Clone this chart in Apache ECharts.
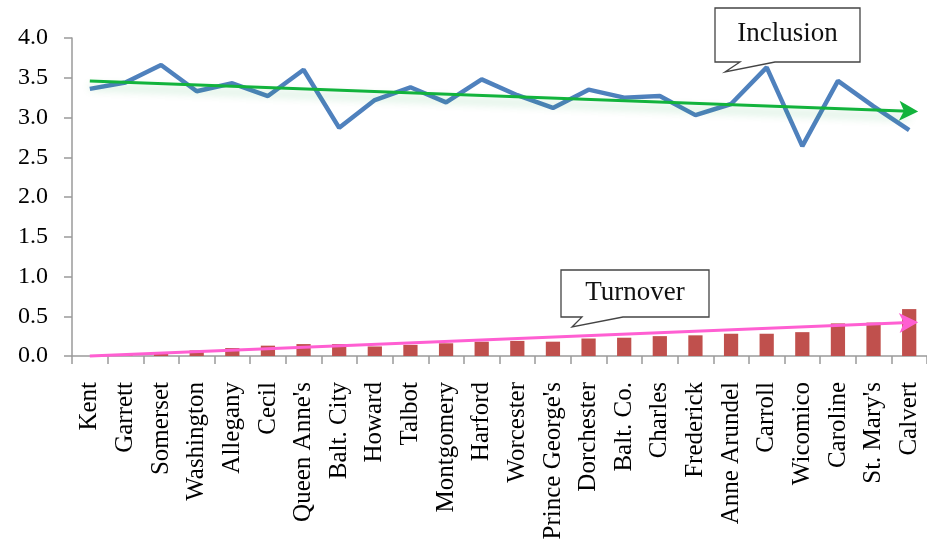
<!DOCTYPE html>
<html>
<head>
<meta charset="utf-8">
<script src="https://cdn.jsdelivr.net/npm/echarts@6/dist/echarts.min.js"></script>
<style>
  html, body { margin: 0; padding: 0; background: #fff; overflow: hidden; }
  #chart { width: 927px; height: 544px; }
</style>
</head>
<body>
<div id="chart"></div>
<script>
// counties, in the order they appear on the x axis
const counties = [
  "Kent", "Garrett", "Somerset", "Washington", "Allegany", "Cecil",
  "Queen Anne's", "Balt. City", "Howard", "Talbot", "Montgomery", "Harford",
  "Worcester", "Prince George's", "Dorchester", "Balt. Co.", "Charles",
  "Frederick", "Anne Arundel", "Carroll", "Wicomico", "Caroline",
  "St. Mary's", "Calvert"
];

// inclusion score (blue line)
const inclusion = [
  3.36, 3.44, 3.66, 3.33, 3.43, 3.27, 3.60, 2.87, 3.22, 3.38, 3.19, 3.48,
  3.28, 3.12, 3.35, 3.25, 3.27, 3.03, 3.17, 3.63, 2.64, 3.46, 3.14, 2.84
];

// turnover rate (red bars)
const turnover = [
  0.00, 0.01, 0.05, 0.07, 0.10, 0.13, 0.15, 0.15, 0.12, 0.14, 0.16, 0.18,
  0.19, 0.18, 0.22, 0.23, 0.25, 0.26, 0.28, 0.28, 0.30, 0.41, 0.42, 0.59
];

// trend arrows: value at first and last county
const inclusionTrend = [3.46, 3.08];
const turnoverTrend = [0.00, 0.42];

const yTicks = [0, 4, 0.5]; // min, max, step

const serif = "'Liberation Serif', 'Times New Roman', serif";

function trendLine(ends, color, glow) {
  return {
    silent: true,
    symbol: ["none", "arrow"],
    symbolSize: [15, 19],
    symbolOffset: [0, [0, -9]],
    label: { show: false },
    lineStyle: {
      type: "solid",
      color: color,
      width: 3,
      shadowColor: glow,
      shadowBlur: glow ? 8 : 0,
      shadowOffsetY: glow ? 6 : 0
    },
    data: [[
      { coord: [counties[0], ends[0]] },
      { coord: [counties[counties.length - 1], ends[1]] }
    ]]
  };
}

function callout(box, tail, text) {
  const [x1, y1, x2, y2] = box;
  const [bl, br, tx, ty] = tail;
  return [
    {
      type: "polygon",
      z: 100,
      shape: {
        points: [[x1, y1], [x2, y1], [x2, y2], [br, y2], [tx, ty], [bl, y2], [x1, y2]]
      },
      style: { fill: "#fff", stroke: "#444", lineWidth: 1.3 }
    },
    {
      type: "text",
      z: 101,
      x: (x1 + x2) / 2,
      y: (y1 + y2) / 2 - 1,
      style: {
        text: text,
        fill: "#111",
        font: "27px " + serif,
        align: "center",
        verticalAlign: "middle"
      }
    }
  ];
}

const chart = echarts.init(document.getElementById("chart"));

chart.setOption({
  animation: false,
  backgroundColor: "#fff",
  grid: { left: 72, right: -9, top: 38, bottom: 188, containLabel: false },
  xAxis: {
    type: "category",
    data: counties,
    boundaryGap: true,
    axisLine: { lineStyle: { color: "#9a9a9a", width: 1.5 } },
    axisTick: { show: true, length: 8, lineStyle: { color: "#9a9a9a", width: 1.5 } },
    axisLabel: {
      interval: 0,
      rotate: 90,
      margin: 26,
      color: "#000",
      fontFamily: serif,
      fontSize: 25
    },
    splitLine: { show: false }
  },
  yAxis: {
    type: "value",
    min: yTicks[0],
    max: yTicks[1],
    interval: yTicks[2],
    axisLine: { show: true, lineStyle: { color: "#9a9a9a", width: 1.5 } },
    axisTick: { show: true, length: 8, lineStyle: { color: "#9a9a9a", width: 1.5 } },
    axisLabel: {
      margin: 24,
      color: "#000",
      fontFamily: serif,
      fontSize: 24,
      formatter: (v) => v.toFixed(1)
    },
    splitLine: { show: false }
  },
  series: [
    {
      name: "Turnover",
      type: "bar",
      data: turnover,
      barWidth: "40%",
      itemStyle: { color: "#C0504D" },
      markLine: trendLine(turnoverTrend, "#FF5FD2", null),
      z: 2
    },
    {
      name: "Inclusion",
      type: "line",
      data: inclusion,
      symbol: "none",
      lineStyle: { color: "#4F81BD", width: 4.5 },
      markLine: trendLine(inclusionTrend, "#12B33C", "rgba(0,160,60,0.3)"),
      z: 3
    }
  ],
  graphic: [
    ...callout([715, 8, 860, 62], [740, 775, 725, 72], "Inclusion"),
    ...callout([561, 270, 709, 317], [582, 623, 572, 327], "Turnover")
  ]
});
</script>
</body>
</html>
